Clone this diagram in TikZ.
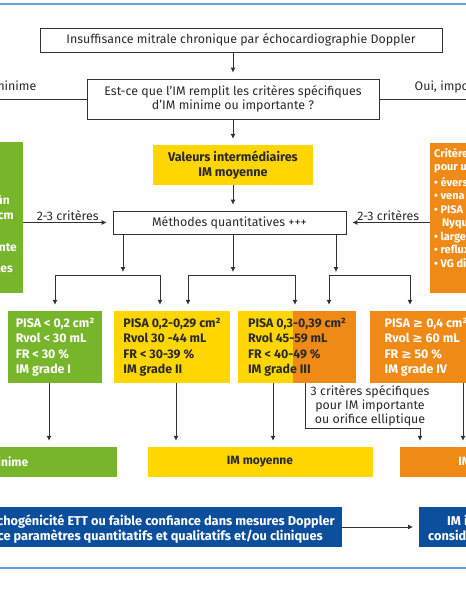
\documentclass[tikz,border=0pt]{standalone}
\usepackage{fontspec}
\setmainfont{Fira Sans}
\newfontfamily\symfont{DejaVu Sans}
\usetikzlibrary{positioning, arrows.meta, calc}

\definecolor{imgreen}{HTML}{77B52B}
\definecolor{imyellow}{HTML}{FFD600}
\definecolor{imorange}{HTML}{EF8A17}
\definecolor{imblue}{HTML}{0B4F9C}
\definecolor{rulecol}{HTML}{62A3D9}
\definecolor{linegray}{HTML}{333333}
\definecolor{textdark}{HTML}{2A2A2A}

\newcommand{\gesym}{{\symfont\bfseries ≥}}

\begin{document}
\begin{tikzpicture}[
    x=1pt, y=-1pt,
    box/.style={draw=linegray, line width=0.8pt, fill=white, inner sep=2pt, align=center, text=textdark, font=\fontsize{12.4}{14.5}\selectfont},
    colbox/.style={inner sep=0pt, align=center, font=\bfseries\fontsize{12}{14}\selectfont},
    grade/.style={minimum height=72pt, inner sep=0pt, align=left, font=\bfseries\fontsize{12.4}{15.5}\selectfont},
    spec/.style={inner sep=0pt, text=white, align=left, font=\bfseries\fontsize{12}{14}\selectfont},
    bluetxt/.style={inner sep=0pt, text=white, font=\bfseries\fontsize{12.8}{14}\selectfont},
    lbl/.style={inner sep=1.5pt, text=textdark, font=\fontsize{12.4}{13.8}\selectfont},
    link/.style={draw=linegray, line width=0.8pt},
    arr/.style={link, -{Latex[length=5pt,width=5pt]}, shorten >=6pt}
]
    \useasboundingbox (0,0) rectangle (466,600);
    \clip (0,0) rectangle (466,600);
    \fill[white] (0,0) rectangle (466,600);

    % rules
    \draw[rulecol, line width=1.3pt] (0,4) -- (466,4);
    \draw[rulecol, line width=1.3pt] (0,568) -- (466,568);

    % top of the chart
    \node[box, minimum width=402pt, minimum height=24pt] (insuff) at (241,40) {Insuffisance mitrale chronique par échocardiographie Doppler};
    \node[box, minimum width=292pt, minimum height=40pt] (question) at (233,99) {Est-ce que l’IM remplit les critères spécifiques\\d’IM minime ou importante ?};
    \node[colbox, fill=imyellow, text=textdark, minimum width=160pt, minimum height=40pt, font=\bfseries\fontsize{12.6}{15}\selectfont] (moyval) at (233,165) {Valeurs intermédiaires\\IM moyenne};
    \node[box, minimum width=233pt, minimum height=23pt] (methodes) at (229.5,222.5) {Méthodes quantitatives +++};

    \coordinate (minout) at (-10,99);
    \coordinate (impout) at (476,99);
    \draw[link] (question.west) -- (minout);
    \draw[link] (question.east) -- (impout);
    \node[lbl, anchor=base east] (minlbl) at (38,90) {Oui, minime};
    \node[lbl, anchor=base west] (implbl) at (413,90) {Oui, importante};

    % side criteria
    \node[fill=imgreen, minimum width=150pt, minimum height=151pt, anchor=north east] (minspec) at (23,142) {};
    \node[spec, anchor=base east] (minspecA) at (10,204) {\textbullet\ petit jet central fin};
    \node[spec, anchor=base east] (minspecB) at (14,219) {\textbullet\ vena contracta < 0,3 cm};
    \node[spec, anchor=base east] (minspecC) at (17,251) {\textbullet\ convergence absente};
    \node[spec, anchor=base east] (minspecD) at (13,272) {\textbullet\ ondes A dominantes};

    \node[fill=imorange, minimum width=150pt, minimum height=150pt, anchor=north west] (impspec) at (430,143) {};
    \node[spec, anchor=north west, font=\bfseries\fontsize{11}{13.5}\selectfont] (impspecT) at (434,148) {Critères spécifiques\\pour une IM importante :\\[2pt]%
        \textbullet\ éversion valvulaire\\\textbullet\ vena contracta \gesym{} 0,7 cm\\\textbullet\ PISA \gesym{} 1 cm à la limite de\\\hspace*{8pt}Nyquist 40 cm/s\\%
        \textbullet\ large jet central\\\textbullet\ reflux systolique veines pulmonaires\\\textbullet\ VG dilaté};

    \draw[arr] (insuff.south -| question.north) -- (question.north);
    \draw[arr] (question.south) -- (moyval.north);
    \draw[arr] (moyval.south) -- (moyval.south |- methodes.north);
    \draw[arr] (minspec.east |- methodes.west) -- node[lbl, above] (critmin) {2-3 critères} (methodes.west);
    \draw[arr] (impspec.west |- methodes.east) -- node[lbl, above] (critimp) {2-3 critères} (methodes.east);

    % grades
    \node[grade, fill=imgreen, text=white, minimum width=94pt] (g1) at (55,347) {PISA < 0,2 cm²\\Rvol < 30 mL\\FR < 30 \%\\IM grade I};
    \node[grade, fill=imyellow, text=textdark, minimum width=116pt] (g2) at (172,347) {PISA 0,2-0,29 cm²\\Rvol 30 -44 mL\\FR < 30-39 \%\\IM grade II};
    \node[grade, fill=imyellow, text=textdark, minimum width=118pt,
        path picture={\fill[imorange] ($(path picture bounding box.north west)!0.466!(path picture bounding box.north east)$) rectangle (path picture bounding box.south east);}] (g3) at (297,347) {PISA 0,3-0,39 cm²\\Rvol 45-59 mL\\FR < 40-49 \%\\IM grade III};
    \node[grade, fill=imorange, text=white, minimum width=112pt] (g4) at (426,347) {PISA \gesym{} 0,4 cm²\\Rvol \gesym{} 60 mL\\FR \gesym{} 50 \%\\IM grade IV};

    \coordinate (splitA) at (123,275);
    \coordinate (splitB) at (233,275);
    \coordinate (splitC) at (336,275);
    \foreach \s in {splitA, splitB, splitC}
        \draw[arr, shorten >=3pt] (\s |- methodes.south) -- (\s);
    \draw[arr] (splitA) -| (g1.north);
    \draw[arr] (splitA) -| ([xshift=-12pt]g2.north);
    \draw[arr] (splitB) -| ([xshift=16pt]g2.north);
    \draw[arr] (splitB) -| ([xshift=-2pt]g3.north);
    \draw[arr] (splitC) -| ([xshift=32pt]g3.north);
    \draw[arr] (splitC) -| ([xshift=-16pt]g4.north);

    % conclusions
    \node[colbox, fill=imgreen, text=white, minimum width=234pt, minimum height=30pt] (minfin) at (0,462) {IM minime};
    \node[colbox, fill=imyellow, text=textdark, minimum width=225pt, minimum height=30pt] (moyfin) at (260,462) {IM moyenne};
    \node[colbox, fill=imorange, text=white, minimum width=194pt, minimum height=30pt] (impfin) at (497,462) {IM importante};

    \draw[arr] ([xshift=-6pt]g1.south) -- ([xshift=-6pt]g1.south |- minfin.north);
    \draw[arr] ([xshift=4pt]g2.south) -- ([xshift=4pt]g2.south |- moyfin.north);
    \draw[arr] ([xshift=-24pt]g3.south) -- ([xshift=-24pt]g3.south |- moyfin.north);
    \coordinate (bend) at (420,428);
    \draw[arr] ([xshift=8pt]g3.south) |- (bend) -- (bend |- impfin.north);
    \draw[arr] ([xshift=37pt]g4.south) -- ([xshift=37pt]g4.south |- impfin.north);
    \node[lbl, align=center, inner sep=0pt] (speclbl) at (370,406) {3 critères spécifiques\\pour IM importante\\ou orifice elliptique};

    % doubtful cases
    \node[fill=imblue, minimum width=400pt, minimum height=40pt, anchor=east] (echo) at (342,527) {};
    \node[bluetxt, anchor=base east] (echoA) at (335,525) {Si faible échogénicité ETT ou faible confiance dans mesures Doppler};
    \node[bluetxt, anchor=base east] (echoB) at (323,540) {ETO ou concordance paramètres quantitatifs et qualitatifs et/ou cliniques};
    \node[fill=imblue, minimum width=120pt, minimum height=40pt, anchor=west] (impconf) at (419,527) {};
    \node[bluetxt, anchor=base west] (impconfA) at (447,525) {IM importante};
    \node[bluetxt, anchor=base west] (impconfB) at (428,540) {considérée comme telle};
    \draw[arr] (echo.east) -- (impconf.west);
\end{tikzpicture}
\end{document}
